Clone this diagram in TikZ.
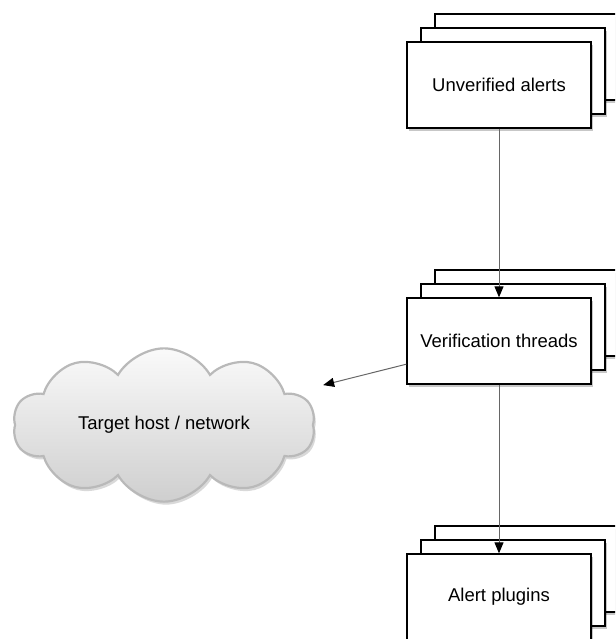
\documentclass[tikz,border=0pt]{standalone}
\usepackage{fontspec}
\setmainfont{Liberation Sans}
\usetikzlibrary{shapes.symbols,shadows,arrows.meta,calc}
\begin{document}
\begin{tikzpicture}[x=1pt,y=-1pt,
  card/.style={draw=black, line width=1.3pt, fill=white,
    minimum width=184pt, minimum height=86pt, inner sep=0pt,
    font=\fontsize{18.5}{21}\selectfont,
    drop shadow={shadow xshift=2pt, shadow yshift=-3pt, opacity=0.22, fill=black}},
  conn/.style={-{Triangle[length=11pt,width=9pt,color=black]}, line width=1pt, draw=black!60},
  cloudnode/.style={cloud, cloud puffs=10, cloud puff arc=120, aspect=2.1,
    minimum width=302pt, minimum height=142pt, inner sep=0pt,
    draw=gray!55, line width=2.2pt, top color=gray!4, bottom color=gray!38,
    font=\fontsize{18.5}{21}\selectfont,
    drop shadow={shadow xshift=2pt, shadow yshift=-3pt, opacity=0.15, fill=black}}]
\useasboundingbox (0,0) rectangle (615,639);
\clip (0,0) rectangle (615,639);
% stack 1
\node[card] (b1c) at (527,57) {};
\node[card] (b1b) at (513,71) {};
\node[card] (b1) at (499,85) {Unverified alerts};
% stack 2
\node[card] (b2c) at (527,313) {};
\node[card] (b2b) at (513,327) {};
\node[card] (b2) at (499,341) {Verification threads};
% stack 3
\node[card] (b3c) at (527,569) {};
\node[card] (b3b) at (513,583) {};
\node[card] (b3) at (499,597) {Alert plugins};
% cloud
\node[cloudnode] (cloud) at (164,425) {Target host / network};
\coordinate (ctip) at ($(b2)!0.525!(cloud)$);
% connectors
\draw[conn] (b1) -- (b2);
\draw[conn] (b2) -- (b3);
\draw[conn] (b2) -- (ctip);
\end{tikzpicture}
\end{document}
